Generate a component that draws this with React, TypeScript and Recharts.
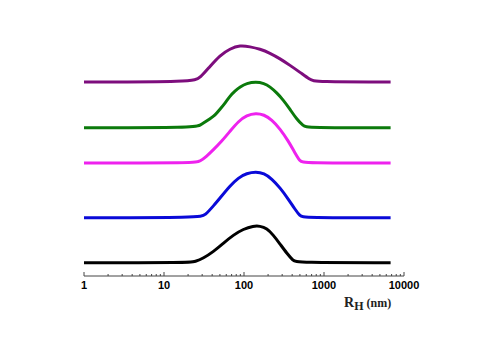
import { LineChart, Line, XAxis, YAxis, Label } from 'recharts'

// hydrodynamic radius (nm) and intensity (a.u.) for each sample, bottom to top
const blackR = [1, 21, 24.4, 31, 41.5, 55, 73.6, 98.3, 131, 158, 193, 232, 282, 343, 413, 455, 6800]
const blackI = [0, 0, 1, 4.4, 11, 19.4, 27.7, 33.7, 36.7, 36.7, 34.4, 27.7, 18.7, 9.4, 2, 0, 0]

const blueR = [1, 28.2, 32.5, 41.5, 52.6, 66.8, 85, 108, 141, 178, 222, 282, 360, 434, 501, 553, 6800]
const blueI = [0, 0, 2.4, 11.7, 21.7, 31.7, 40, 44.4, 46, 44.4, 39, 30, 18.4, 8.4, 1.7, 0, 0]

const magentaR = [1, 24.4, 28.2, 34.1, 41.5, 52.6, 66.8, 85, 108, 141, 178, 222, 282, 360, 434, 501, 553, 6800]
const magentaI = [0, 0, 1.7, 6.7, 13.3, 21.7, 31.7, 41.7, 47.7, 50, 48.3, 43.3, 34.3, 21.7, 10, 1.7, 0, 0]

const greenR = [1, 24.4, 28.2, 32.5, 37.6, 43.4, 50.1, 57.8, 66.8, 77.1, 89.1, 108, 141, 178, 211, 256, 310, 376, 457, 553, 608, 6800]
const greenI = [0, 0, 2.4, 5.7, 9, 12.4, 18.4, 24.4, 31.7, 36.7, 40.7, 44.4, 46, 44.4, 41, 35, 27.7, 18.4, 8.4, 1.7, 0, 0]

const purpleR = [1, 23.2, 28.2, 37.6, 50.1, 66.8, 89.1, 119, 158, 211, 282, 376, 501, 668, 772, 6800]
const purpleI = [0, 0, 4, 15.7, 26.7, 33.3, 36.7, 35.3, 33, 29, 23.3, 16.7, 9.7, 2.3, 0, 0]

// vertical offsets used to stack the curves
const offsets = [13.3, 58.3, 113, 148.3, 194]

const majorTicks = [1, 10, 100, 1000, 10000]
const allTicks: number[] = []
for (let d = 1; d < 10000; d *= 10) {
  for (let k = 1; k < 10; k++) allTicks.push(d * k)
}
allTicks.push(10000)

const series = [
  { name: 'black', r: blackR, i: blackI, color: '#000000' },
  { name: 'blue', r: blueR, i: blueI, color: '#0a0ad8' },
  { name: 'magenta', r: magentaR, i: magentaI, color: '#ee22ee' },
  { name: 'green', r: greenR, i: greenI, color: '#0b7a0b' },
  { name: 'purple', r: purpleR, i: purpleI, color: '#7d0d7d' },
]

function LogTick({ x, y, payload }: { x?: number; y?: number; payload?: { value: number } }) {
  const v = payload?.value ?? 0
  const major = majorTicks.includes(v)
  return (
    <g>
      <line x1={x} x2={x} y1={(y ?? 0) - (major ? 4 : 2)} y2={y} stroke="#444" strokeWidth={1} />
      {major && (
        <text
          x={x}
          y={(y ?? 0) + 13}
          textAnchor="middle"
          fontFamily="'Liberation Sans', Arial, sans-serif"
          fontWeight="bold"
          fontSize={11}
          fill="#000"
        >
          {v}
        </text>
      )}
    </g>
  )
}

function RhLabel({ viewBox }: { viewBox?: { x: number; y: number; width: number; height: number } }) {
  if (!viewBox) return null
  return (
    <text
      x={viewBox.x + viewBox.width - 60}
      y={viewBox.y + 31}
      fontFamily="'Liberation Serif', 'Times New Roman', serif"
      fontWeight="bold"
      fontSize={14}
      fill="#222"
    >
      R
      <tspan fontSize={12} dy={3}>H</tspan>
      <tspan fontSize={12} dy={-3}> (nm)</tspan>
    </text>
  )
}

export default function App() {
  const lines = series.map((s, idx) => ({
    ...s,
    data: s.r.map((r, j) => ({ r, y: s.i[j] + offsets[idx] })),
  }))

  return (
    <div style={{ position: 'absolute', left: 0, top: 0, width: 477, height: 358, background: '#fff' }}>
      <LineChart width={477} height={358} margin={{ top: 30, right: 73, left: 84, bottom: 52 }}>
        <XAxis
          dataKey="r"
          type="number"
          scale="log"
          domain={[1, 10000]}
          ticks={allTicks}
          interval={0}
          tick={<LogTick />}
          tickLine={false}
          tickSize={0}
          tickMargin={0}
          axisLine={{ stroke: '#444', strokeWidth: 1 }}
          height={30}
          allowDataOverflow
        >
          <Label content={<RhLabel />} />
        </XAxis>
        <YAxis hide type="number" domain={[0, 246]} width={0} allowDataOverflow />
        {lines.map(s => (
          <Line
            key={s.name}
            data={s.data}
            dataKey="y"
            type="basis"
            stroke={s.color}
            strokeWidth={3}
            dot={false}
            activeDot={false}
            isAnimationActive={false}
          />
        ))}
      </LineChart>
    </div>
  )
}
